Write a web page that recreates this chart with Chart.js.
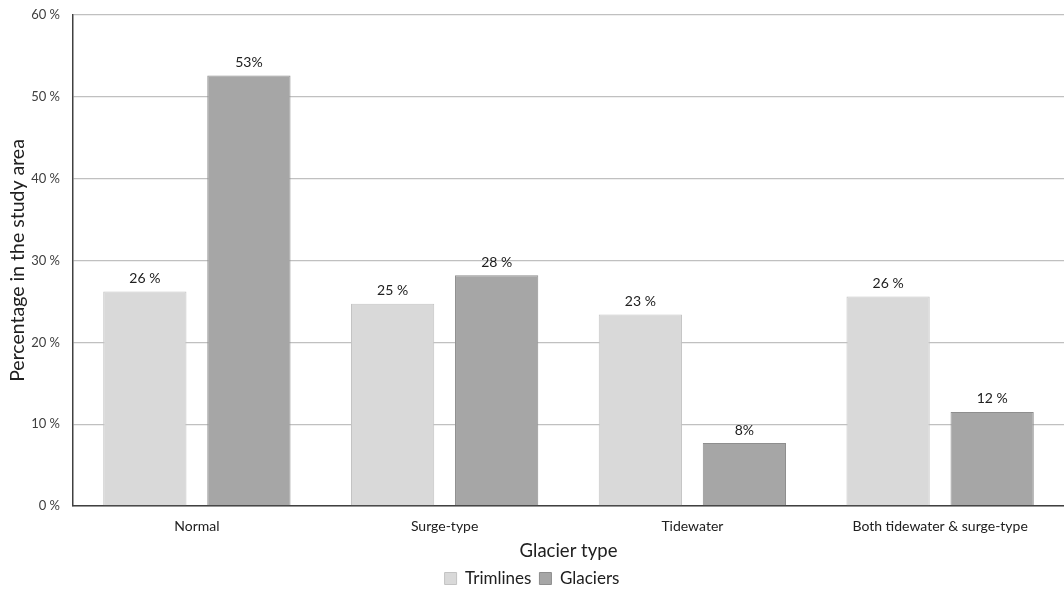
<!DOCTYPE html>
<html lang="en">
<head>
  <meta charset="UTF-8">
  <title>Glacier type</title>
  <script src="https://cdn.jsdelivr.net/npm/chart.js"></script>
  <style>
    html, body { margin: 0; padding: 0; background: #fff; }
    #box { width: 1064px; height: 589px; }
  </style>
</head>
<body>
  <div id="box"><canvas id="myChart"></canvas></div>

<script>
  // categories and values
  const categorias = ['Normal', 'Surge-type', 'Tidewater', 'Both tidewater & surge-type'];
  const trimlines = [26.2, 24.7, 23.4, 25.6];
  const glaciers = [52.6, 28.2, 7.7, 11.5];
  const rotulosTrim = ['26 %', '25 %', '23 %', '26 %'];
  const rotulosGlac = ['53%', '28 %', '8%', '12 %'];
  const ticksY = [0, 10, 20, 30, 40, 50, 60];

  const fonte = 'Lato, "Open Sans", sans-serif';
  const cinzaTexto = '#404040';

  // escreve o valor em cima de cada barra
  const rotulos = {
    id: 'rotulos',
    afterDatasetsDraw(chart) {
      const ctx = chart.ctx;
      ctx.save();
      ctx.font = '14px ' + fonte;
      ctx.fillStyle = '#202020';
      ctx.textAlign = 'center';
      ctx.textBaseline = 'bottom';
      const textos = [rotulosTrim, rotulosGlac];
      chart.data.datasets.forEach(function (ds, i) {
        chart.getDatasetMeta(i).data.forEach(function (bar, j) {
          ctx.fillText(textos[i][j], bar.x, bar.y - 6);
        });
      });
      ctx.restore();
    }
  };

  new Chart(document.getElementById('myChart'), {
    type: 'bar',
    data: {
      labels: categorias,
      datasets: [{
        label: 'Trimlines',
        data: trimlines,
        backgroundColor: '#d9d9d9',
        borderColor: '#c3c3c3',
        borderWidth: 1,
        categoryPercentage: 0.84,
        barPercentage: 0.8
      }, {
        label: 'Glaciers',
        data: glaciers,
        backgroundColor: '#a6a6a6',
        borderColor: '#8e8e8e',
        borderWidth: 1,
        categoryPercentage: 0.84,
        barPercentage: 0.8
      }]
    },
    options: {
      responsive: true,
      maintainAspectRatio: false,
      animation: false,
      layout: { padding: { top: 15, right: 0, bottom: -8, left: 0 } },
      plugins: {
        tooltip: { enabled: false },
        legend: {
          position: 'bottom',
          labels: {
            font: { family: fonte, size: 17 },
            color: '#202020',
            boxWidth: 12,
            boxHeight: 12,
            padding: 8
          }
        }
      },
      scales: {
        x: {
          grid: { display: false, drawTicks: false },
          border: { color: '#404040', width: 1.5 },
          ticks: { font: { family: fonte, size: 14 }, color: '#202020', padding: 12 },
          title: {
            display: true,
            text: 'Glacier type',
            font: { family: fonte, size: 18.5 },
            color: '#202020',
            padding: { top: 4, bottom: 0 }
          },
          afterFit: function (s) { s.height = 56; }
        },
        y: {
          min: 0,
          max: 60,
          afterBuildTicks: function (s) { s.ticks = ticksY.map(v => ({ value: v })); },
          grid: { color: '#c0c0c0', lineWidth: 1.3, drawTicks: true, tickLength: 9, tickColor: 'rgba(0,0,0,0)' },
          border: { color: '#404040', width: 1.5 },
          ticks: {
            font: { family: fonte, size: 13 },
            color: cinzaTexto,
            padding: 4,
            callback: function (v) { return v + ' %'; }
          },
          title: {
            display: true,
            text: 'Percentage in the study area',
            font: { family: fonte, size: 19.5 },
            color: '#202020',
            padding: { top: 6, bottom: 2 }
          },
          afterFit: function (s) { s.width = 73; }
        }
      }
    },
    plugins: [rotulos]
  });
</script>
</body>
</html>
